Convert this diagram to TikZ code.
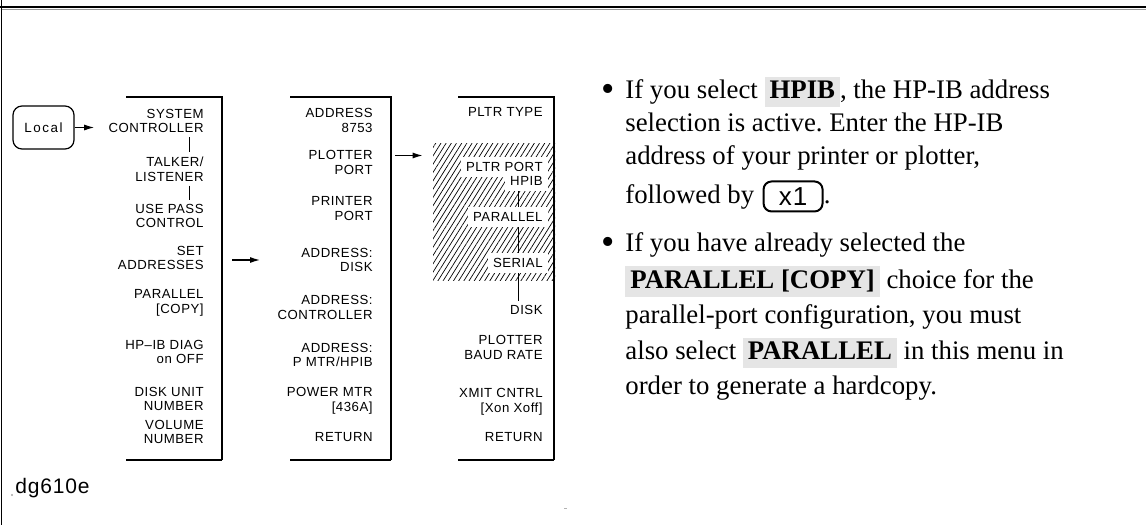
\documentclass[tikz,border=0pt]{standalone}
\usepackage{fontspec}
\setmainfont{Liberation Serif}
\newfontfamily\menufont[LetterSpace=4]{Liberation Sans}
\newfontfamily\spacedfont[LetterSpace=12]{Liberation Sans}
\usetikzlibrary{positioning,arrows.meta,patterns.meta}

\definecolor{keygray}{gray}{0.9}
% grey softkey label inside running text
\newcommand{\softkey}[1]{{\setlength{\fboxsep}{1.5pt}%
  \smash{\colorbox{keygray}{\hspace{1pt}\rule[-3pt]{0pt}{3pt}\textbf{#1}\hspace{1pt}}}}}
\frenchspacing

\begin{document}
\begin{tikzpicture}[x=0.5pt,y=-0.5pt,>={Latex[length=5pt,width=3pt]},
  item/.style={font=\menufont\fontsize{6.6}{7.3}\selectfont,align=right,
               anchor=east,inner sep=2pt},
  cutout/.style={item,fill=white,inner sep=2.5pt},
  keybox/.style={draw,rounded corners=4.5pt,line width=0.6pt,
                 minimum width=30.5pt,minimum height=21.5pt,
                 font=\spacedfont\fontsize{6.7}{8}\selectfont},
  keycap/.style={draw,rounded corners=4pt,line width=1pt,inner sep=0pt,
                 minimum width=29.5pt,minimum height=15pt,
                 font=\menufont\fontsize{13}{15}\selectfont},
  hatch/.style={pattern={Lines[angle=58,distance=2.2pt,line width=0.35pt]},
                inner sep=0pt},
  frame/.style={line width=0.6pt},
  link/.style={line width=0.5pt},
  arr/.style={->,line width=0.6pt},
  body/.style={font=\fontsize{13.4}{17.5}\selectfont,anchor=base west,
               inner sep=0pt},
  bullet/.style={font=\fontsize{19}{20}\selectfont,anchor=base,inner sep=0pt}]

  \useasboundingbox (0,0) rectangle (1146,525);

  % page rules
  \draw[line width=0.6pt] (1.5,0) -- (1.5,525);
  \draw[line width=1.2pt] (0,7) -- (1146,7);
  \draw[black!40,line width=0.4pt] (1.5,9) -- (1146,9);

  % menu frames (open on the left)
  \coordinate (m1-nw) at (126,97);  \coordinate (m1-se) at (222,460);
  \coordinate (m2-nw) at (290,97);  \coordinate (m2-se) at (391,460);
  \coordinate (m3-nw) at (458,97);  \coordinate (m3-se) at (554,460);
  \foreach \m in {m1,m2,m3} {
    \draw[frame] (\m-nw) -- (\m-nw -| \m-se) -- (\m-se);
    \draw[frame,line width=1pt] (\m-se) -- (\m-se -| \m-nw);
  }

  % front panel key
  \node[keybox] (local) at (43.5,127.5) {Local};

  % first menu
  \foreach \n/\y/\txt in {sys/121/{SYSTEM\\CONTROLLER},
      talk/169/{TALKER/\\LISTENER}, pass/216/{USE PASS\\CONTROL},
      addr/258/{SET\\ADDRESSES}, par/303/{PARALLEL\\{}[COPY]},
      diag/352/{HP–IB DIAG\\on OFF}, disk/399/{DISK UNIT\\NUMBER},
      vol/432/{VOLUME\\NUMBER}}
    \node[item] (m1-\n) at (208,\y) {\txt};
  \coordinate (m1-rail) at (189,0);
  \draw[link] (m1-sys.south -| m1-rail) -- (m1-talk.north -| m1-rail);
  \draw[link] (m1-talk.south -| m1-rail) -- (m1-pass.north -| m1-rail);

  % second menu
  \foreach \n/\y/\txt in {a8753/120.5/{ADDRESS\\8753},
      plot/162.5/{PLOTTER\\PORT}, print/208.5/{PRINTER\\PORT},
      disk/260/{ADDRESS:\\DISK}, ctl/307.5/{ADDRESS:\\CONTROLLER},
      pmtr/355/{ADDRESS:\\P MTR/HPIB}, pwr/401/{POWER MTR\\{}[436A]},
      ret/437/RETURN}
    \node[item] (m2-\n) at (377,\y) {\txt};

  % third menu, port choices hatched
  \node[hatch,minimum width=61pt,minimum height=68.5pt] (hatch) at (494,211.5) {};
  \node[item] (m3-type) at (547,112) {PLTR TYPE};
  \node[cutout] (m3-port) at (548,167) {PLTR PORT};
  \node[cutout] (m3-hpib) at (548,181) {HPIB};
  \node[cutout] (m3-par) at (548,217) {PARALLEL};
  \node[cutout] (m3-ser) at (548,263) {SERIAL};
  \foreach \n/\y/\txt in {disk/310/DISK, baud/347.5/{PLOTTER\\BAUD RATE},
      xmit/401.5/{XMIT CNTRL\\{}[Xon Xoff]}, ret/437/RETURN}
    \node[item] (m3-\n) at (547,\y) {\txt};
  \coordinate (m3-rail) at (518,0);
  \draw[link] (m3-hpib.south -| m3-rail) -- (m3-par.north -| m3-rail);
  \draw[link] (m3-par.south -| m3-rail) -- (m3-ser.north -| m3-rail);
  \draw[link] (m3-ser.south -| m3-rail) -- (m3-disk.north -| m3-rail);

  % arrows between menus
  \draw[arr,shorten >=5pt] (local.east) -- (local.east -| m1-sys.west);
  \draw[arr,shorten <=5pt,shorten >=15pt] (m1-se |- m2-disk) -- (m2-nw |- m2-disk);
  \path ([yshift=3.5pt]m2-plot.east) coordinate (m2-out);
  \draw[arr,shorten <=2pt,shorten >=5pt] (m2-out -| m2-se) -- (m2-out -| hatch.west);

  % notes
  \node[bullet] (dot1) at (608,101) {\textbullet};
  \node[body] (b1a) at (625,98) {If you select \softkey{HPIB}, the HP-IB address};
  \node[body] (b1b) at (625,131) {selection is active. Enter the HP-IB};
  \node[body] (b1c) at (625,164) {address of your printer or plotter,};
  \node[body] (b1d) at (625,203) {followed by};
  \node[keycap,anchor=west] (x1key) at ([xshift=4pt]b1d.east) {x1};
  \node[body] (b1e) at (x1key.east |- b1d.base) {.};

  \node[bullet] (dot2) at (608,254) {\textbullet};
  \node[body] (b2a) at (625,251) {If you have already selected the};
  \node[body] (b2b) at (625,288) {\softkey{PARALLEL [COPY]} choice for the};
  \node[body] (b2c) at (625,323) {parallel-port configuration, you must};
  \node[body] (b2d) at (625,359) {also select \softkey{PARALLEL} in this menu in};
  \node[body] (b2e) at (625,394) {order to generate a hardcopy.};

  % figure tag
  \fill[black!35] (12,495) circle (0.6pt);
  \node[font=\menufont\fontsize{10.5}{12}\selectfont,anchor=west,inner sep=0pt]
    (tag) at (15,488) {dg610e};
  \fill[black!30] (564,508) rectangle (567,509);

\end{tikzpicture}
\end{document}
